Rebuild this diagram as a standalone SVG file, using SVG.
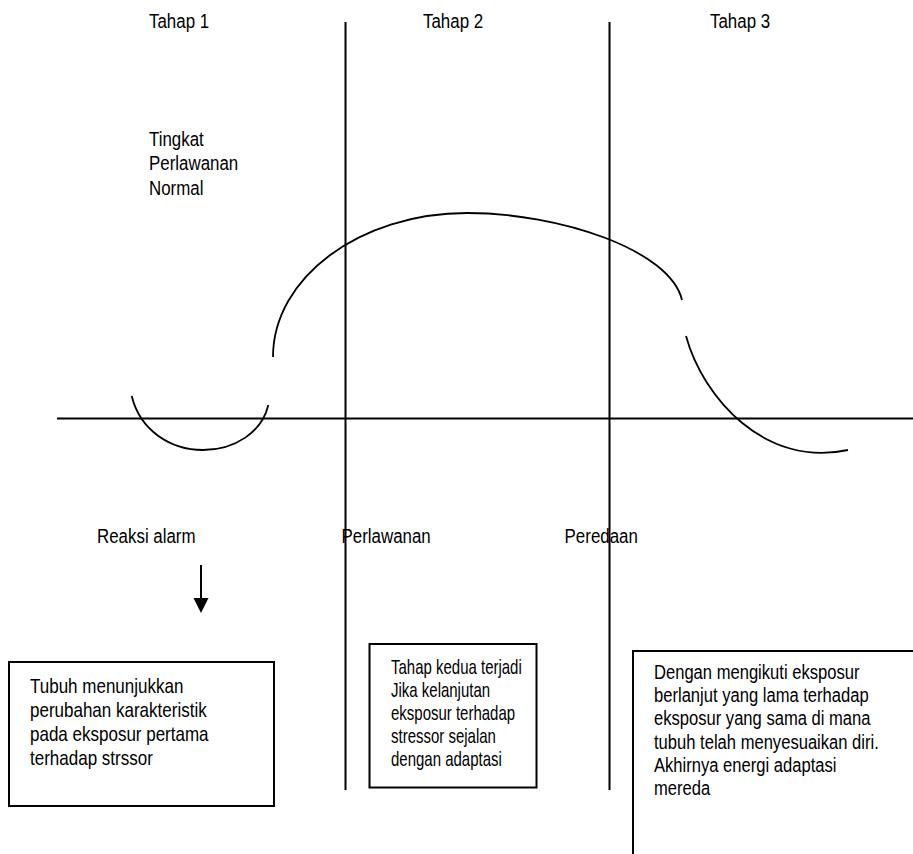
<svg xmlns="http://www.w3.org/2000/svg" width="913" height="854" viewBox="0 0 913 854">
  <style>
    .t { font-family: "Liberation Sans", Arial, sans-serif; font-size: 21px; fill: #000; }
    .t2 { font-family: "Liberation Sans", Arial, sans-serif; font-size: 20px; fill: #000; }
    .ln { stroke: #000; stroke-width: 2; fill: none; }
    .cv { stroke: #000; stroke-width: 1.8; fill: none; }
    .box { stroke: #000; stroke-width: 2; fill: #fff; }
  </style>
  <rect width="913" height="854" fill="#fff"/>

  <g id="chart">
    <line class="ln" x1="57" y1="418.5" x2="913" y2="418.5"/>
    <line class="ln" x1="345.5" y1="22" x2="345.5" y2="790"/>
    <line class="ln" x1="609.5" y1="22" x2="609.5" y2="790"/>
    <path class="cv" d="M131.7,396 C140,430 170,450 203,450 C235,450 262,432 268.3,405"/>
    <path class="cv" d="M273,357 C273,277.5 360,213 467,213 C560,213 670,250 682,300"/>
    <path class="cv" d="M686,336 C703,398 765,468 848,450"/>
  </g>

  <g id="stage-labels">
    <text class="t" transform="translate(149,28) scale(0.805,1)">Tahap 1</text>
    <text class="t" transform="translate(423,28) scale(0.805,1)">Tahap 2</text>
    <text class="t" transform="translate(710,28) scale(0.805,1)">Tahap 3</text>
    <text class="t" transform="translate(149,145.5) scale(0.805,1)"><tspan x="0" y="0">Tingkat</tspan><tspan x="0" y="24.7">Perlawanan</tspan><tspan x="0" y="49.4">Normal</tspan></text>
    <text class="t" transform="translate(97,543) scale(0.805,1)">Reaksi alarm</text>
    <text class="t" transform="translate(341.5,543) scale(0.805,1)">Perlawanan</text>
    <text class="t" transform="translate(564.6,543) scale(0.805,1)">Peredaan</text>
  </g>

  <g id="connectors">
    <line class="ln" x1="201" y1="565" x2="201" y2="600"/>
    <polygon points="193.5,598 208.5,598 201,613" fill="#000"/>
  </g>

  <g id="box1">
    <rect class="box" x="9" y="662" width="265" height="144"/>
    <text class="t" transform="translate(30,693) scale(0.81,1)"><tspan x="0" y="0">Tubuh menunjukkan</tspan><tspan x="0" y="24">perubahan karakteristik</tspan><tspan x="0" y="48">pada eksposur pertama</tspan><tspan x="0" y="72">terhadap strssor</tspan></text>
  </g>

  <g id="box2">
    <rect class="box" x="369.5" y="644" width="167" height="143.5"/>
    <text class="t2" transform="translate(391,674) scale(0.75,1)"><tspan x="0" y="0">Tahap kedua terjadi</tspan><tspan x="0" y="23">Jika kelanjutan</tspan><tspan x="0" y="46">eksposur terhadap</tspan><tspan x="0" y="69">stressor sejalan</tspan><tspan x="0" y="92">dengan adaptasi</tspan></text>
  </g>

  <g id="box3">
    <rect class="box" x="633" y="651" width="300" height="230"/>
    <text class="t" transform="translate(654,679) scale(0.79,1)"><tspan x="0" y="0">Dengan mengikuti eksposur</tspan><tspan x="0" y="23.2">berlanjut yang lama terhadap</tspan><tspan x="0" y="46.4">eksposur yang sama di mana</tspan><tspan x="0" y="69.6">tubuh telah menyesuaikan diri.</tspan><tspan x="0" y="92.8">Akhirnya energi adaptasi</tspan><tspan x="0" y="116">mereda</tspan></text>
  </g>
</svg>
